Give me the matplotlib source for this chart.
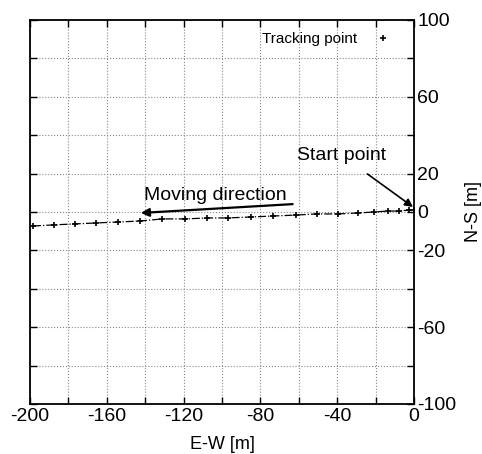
import matplotlib
matplotlib.use("Agg")
import matplotlib.pyplot as plt
from matplotlib.ticker import MultipleLocator, FuncFormatter

plt.rcParams['font.family'] = ['Liberation Sans', 'DejaVu Sans']

ew = [-198.4, -187.5, -176.5, -165.5, -154.0, -142.6, -131.1, -119.1, -107.6,
      -97.1, -85.1, -73.6, -61.6, -50.7, -39.7, -29.2, -20.9, -13.6, -7.8, -2.6, 0.0]
ns = [-7.3, -6.7, -6.2, -5.7, -5.2, -4.7, -3.6, -3.6, -3.1,
      -3.1, -2.6, -2.1, -1.6, -1.0, -1.0, -0.5, 0.0, 0.5, 0.5, 1.0, 1.0]

x_ticks = [-200, -160, -120, -80, -40, 0]
y_tick_labels = [100, 60, 20, 0, -20, -60, -100]

fig = plt.figure(figsize=(4.82, 4.54), dpi=100)
ax = fig.add_axes([30/482, 1-404/454, 384/482, 384/454])

ax.plot(ew, ns, linestyle='-.', color='black', linewidth=0.9, marker='+',
        markersize=5, markeredgewidth=1.2, label='Tracking point')

ax.set_xlim(-200, 0)
ax.set_ylim(-100, 100)
ax.xaxis.set_major_locator(MultipleLocator(20))
ax.yaxis.set_major_locator(MultipleLocator(20))
ax.xaxis.set_major_formatter(FuncFormatter(lambda v, p: f"{int(round(v))}" if int(round(v)) in x_ticks else ""))
ax.yaxis.set_major_formatter(FuncFormatter(lambda v, p: f"{int(round(v))}" if int(round(v)) in y_tick_labels else ""))
ax.yaxis.tick_right()
ax.yaxis.set_label_position('right')
ax.tick_params(axis='both', direction='in', length=5, width=1, labelsize=14,
               top=True, bottom=True, left=True, right=True, pad=3)
ax.tick_params(axis='y', labelleft=False, labelright=True, pad=2.5)
for s in ax.spines.values():
    s.set_linewidth(1.3)

ax.grid(True, linestyle=':', color='#888888', linewidth=0.8)

ax.set_xlabel('E-W [m]', fontsize=13, labelpad=8)
ax.set_ylabel('N-S [m]', fontsize=13, labelpad=6)

ax.annotate('Start point', xy=(-0.5, 2.6), xytext=(-37.6, 29.5),
            fontsize=14, ha='center', va='center',
            arrowprops=dict(arrowstyle='-|>', color='black', lw=1.2,
                            shrinkA=9, shrinkB=0, mutation_scale=12))
ax.annotate('', xy=(-142.3, -0.5), xytext=(-63.2, 4.1),
            arrowprops=dict(arrowstyle='-|>', color='black', lw=1.6,
                            shrinkA=0, shrinkB=0, mutation_scale=12))
ax.text(-103.4, 8.8, 'Moving direction', fontsize=14, ha='center', va='center')

leg = ax.legend(loc='upper right', frameon=False, fontsize=11, handlelength=1.0,
                handletextpad=1.2, borderaxespad=0.4, markerfirst=False,
                bbox_to_anchor=(0.97, 1.0))
leg.get_lines()[0].set_linestyle('None')

fig.savefig('out.png', dpi=100)
